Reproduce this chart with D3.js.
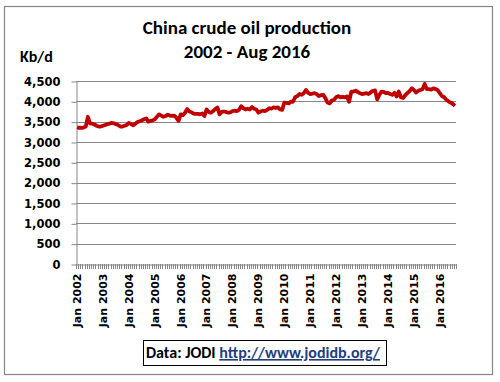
<!DOCTYPE html>
<html>
<head>
<meta charset="utf-8">
<script src="https://cdn.jsdelivr.net/npm/d3@7"></script>
<style>
  body { margin: 0; background: #fff; }
  svg { display: block; }
</style>
</head>
<body>
<div id="chart"></div>
<script>
// years shown on the axis, one label per January
const years = [2002, 2003, 2004, 2005, 2006, 2007, 2008, 2009, 2010, 2011, 2012, 2013, 2014, 2015, 2016];
const monthNames = ['Jan','Feb','Mar','Apr','May','Jun','Jul','Aug','Sep','Oct','Nov','Dec'];
const lastMonth2016 = 8; // data runs to Aug 2016

// monthly crude oil production, Kb/d
const production = [
  3360, 3350, 3350, 3355, 3380, 3620, 3460, 3450, 3430, 3400, 3380, 3380, // 2002
  3400, 3420, 3440, 3450, 3470, 3460, 3440, 3420, 3380, 3380, 3400, 3420, // 2003
  3470, 3440, 3410, 3450, 3490, 3510, 3530, 3560, 3580, 3500, 3520, 3530, // 2004
  3560, 3620, 3680, 3650, 3620, 3640, 3670, 3650, 3640, 3650, 3600, 3520, // 2005
  3680, 3660, 3720, 3810, 3750, 3730, 3700, 3690, 3690, 3680, 3700, 3640, // 2006
  3800, 3740, 3720, 3760, 3810, 3850, 3680, 3740, 3750, 3740, 3720, 3730, // 2007
  3760, 3770, 3760, 3790, 3880, 3830, 3800, 3820, 3800, 3860, 3820, 3800, // 2008
  3720, 3750, 3770, 3760, 3790, 3830, 3820, 3850, 3840, 3850, 3800, 3790, // 2009
  3970, 3960, 3950, 3990, 3990, 4100, 4130, 4180, 4160, 4200, 4280, 4210, // 2010
  4180, 4190, 4200, 4180, 4130, 4150, 4160, 4080, 3970, 3950, 4020, 4040, // 2011
  4100, 4130, 4100, 4110, 4100, 4120, 3990, 4240, 4240, 4260, 4230, 4200, // 2012
  4180, 4190, 4200, 4180, 4220, 4260, 4270, 4050, 4160, 4240, 4230, 4200, // 2013
  4210, 4180, 4160, 4210, 4120, 4240, 4100, 4080, 4150, 4200, 4250, 4320, // 2014
  4280, 4220, 4260, 4280, 4300, 4430, 4300, 4300, 4290, 4320, 4300, 4280, // 2015
  4200, 4130, 4100, 4040, 4000, 3970, 3940, 3890                          // 2016
];
const yTicks = [0, 500, 1000, 1500, 2000, 2500, 3000, 3500, 4000, 4500];

// month categories "Jan 2002" ... "Aug 2016"
const months = [];
years.forEach(y => {
  const n = y === 2016 ? lastMonth2016 : 12;
  for (let m = 0; m < n; m++) months.push(monthNames[m] + ' ' + y);
});
const data = months.map((m, i) => ({ month: m, value: production[i] }));

const width = 500, height = 382;
const plot = { left: 76, right: 456, top: 81, bottom: 264 };

const svg = d3.select('#chart').append('svg')
  .attr('width', width).attr('height', height);

// outer chart border
svg.append('rect')
  .attr('x', 4.5).attr('y', 6.5).attr('width', 488).attr('height', 368)
  .attr('fill', '#fff').attr('stroke', '#868686').attr('stroke-width', 1.2);

const x = d3.scaleBand().domain(months).range([plot.left, plot.right]).padding(0);
const y = d3.scaleLinear().domain([0, 4500]).range([plot.bottom, plot.top]);

// gridlines
svg.append('g').selectAll('line')
  .data(yTicks.slice(1)).enter().append('line')
  .attr('x1', plot.left).attr('x2', plot.right)
  .attr('y1', d => Math.round(y(d)) + 0.5).attr('y2', d => Math.round(y(d)) + 0.5)
  .attr('stroke', '#878787').attr('stroke-width', 1);

// y axis
const gy = svg.append('g')
  .attr('transform', `translate(${plot.left + 0.5},0.5)`)
  .call(d3.axisLeft(y).tickValues(yTicks).tickSize(5).tickSizeOuter(0).tickPadding(11).tickFormat(d3.format(',')));
gy.select('.domain').attr('stroke', '#878787');
gy.selectAll('.tick line').attr('stroke', '#878787');
gy.selectAll('text')
  .attr('font-family', 'DejaVu Sans, Verdana, sans-serif')
  .attr('font-weight', 'bold').attr('font-size', '11.5px').attr('fill', '#000');

// x axis: labels on each January
const gx = svg.append('g')
  .attr('transform', `translate(0,${plot.bottom + 0.5})`)
  .call(d3.axisBottom(x).tickValues(months.filter(m => m.startsWith('Jan'))).tickSize(0).tickSizeOuter(0));
gx.select('.domain').attr('stroke', '#878787');
gx.selectAll('text')
  .attr('font-family', 'DejaVu Sans, Verdana, sans-serif')
  .attr('font-weight', 'bold').attr('font-size', '11px').attr('fill', '#000')
  .attr('text-anchor', 'end')
  .attr('transform', 'rotate(-90)')
  .attr('x', -9).attr('y', 0).attr('dy', '0.35em');

// minor tick marks between months
const bounds = months.map(m => x(m)).concat([plot.right]);
svg.append('g').selectAll('line')
  .data(bounds).enter().append('line')
  .attr('x1', d => Math.round(d) + 0.5).attr('x2', d => Math.round(d) + 0.5)
  .attr('y1', plot.bottom).attr('y2', plot.bottom + 5)
  .attr('stroke', '#878787').attr('stroke-width', 1);

// the line
const line = d3.line()
  .x(d => x(d.month) + x.bandwidth() / 2)
  .y(d => y(d.value));
svg.append('path')
  .datum(data)
  .attr('d', line)
  .attr('fill', 'none')
  .attr('stroke', '#c00000')
  .attr('stroke-width', 3.8)
  .attr('stroke-linejoin', 'round');

// titles
const titleFont = 'Carlito, Calibri, Lato, sans-serif';
svg.append('text')
  .attr('x', 247).attr('y', 34)
  .attr('text-anchor', 'middle')
  .attr('font-family', titleFont).attr('font-weight', 'bold').attr('font-size', '19px')
  .text('China crude oil production');
svg.append('text')
  .attr('x', 247).attr('y', 58)
  .attr('text-anchor', 'middle')
  .attr('font-family', titleFont).attr('font-weight', 'bold').attr('font-size', '19px')
  .text('2002 - Aug 2016');
svg.append('text')
  .attr('x', 20).attr('y', 62)
  .attr('font-family', titleFont).attr('font-weight', 'bold').attr('font-size', '16px')
  .text('Kb/d');

// source box
svg.append('rect')
  .attr('x', 143.5).attr('y', 340.5).attr('width', 243).attr('height', 25)
  .attr('fill', '#fff').attr('stroke', '#000').attr('stroke-width', 1);
const src = svg.append('text')
  .attr('x', 146).attr('y', 358)
  .attr('font-family', titleFont).attr('font-weight', 'bold').attr('font-size', '16px');
src.append('tspan').attr('fill', '#000').text('Data: JODI ');
src.append('tspan').attr('fill', '#1f3f7f').attr('text-decoration', 'underline').text('http://www.jodidb.org/');
</script>
</body>
</html>
